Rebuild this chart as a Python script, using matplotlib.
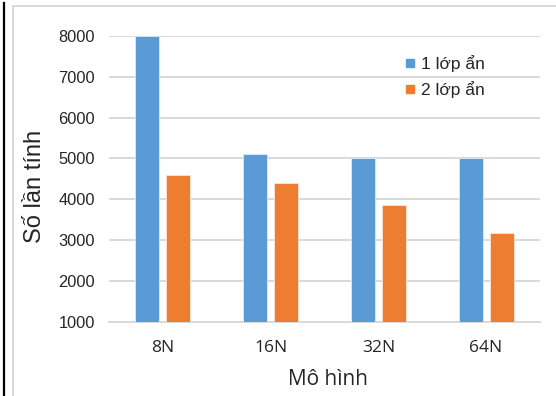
import matplotlib
matplotlib.use("Agg")
import matplotlib.pyplot as plt
from matplotlib.lines import Line2D
import numpy as np

models = ["8N", "16N", "32N", "64N"]
one_layer = [8000, 5100, 5000, 5000]
two_layer = [4600, 4400, 3850, 3170]
series_names = ["1 lớp ẩn", "2 lớp ẩn"]
y_ticks = [1000, 2000, 3000, 4000, 5000, 6000, 7000, 8000]

BLUE = "#5B9BD5"
ORANGE = "#ED7D31"
GRID = "#D9D9D9"
TEXT = "#262626"

W, H = 556, 396
fig = plt.figure(figsize=(W / 100, H / 100), dpi=100)
ax = fig.add_axes([109 / W, 1 - 321.5 / H, 431 / W, 285.5 / H])

x = np.arange(len(models))
bw = 0.223
off = 0.143
ax.bar(x - off, one_layer, bw, bottom=0, color=BLUE, edgecolor="#DDEBF7",
       linewidth=0.6, zorder=3)
ax.bar(x + off, two_layer, bw, bottom=0, color=ORANGE, edgecolor="#FBE5D6",
       linewidth=0.6, zorder=3)

ax.set_xlim(-0.5, len(models) - 0.5)
ax.set_ylim(1000, 8000)
ax.set_yticks(y_ticks)
ax.set_yticklabels([str(v) for v in y_ticks], family="Liberation Sans",
                   fontsize=11.8, color=TEXT)
ax.set_xticks(x)
ax.set_xticklabels(models, family="Open Sans", fontsize=12.5, color=TEXT)
ax.tick_params(axis="both", length=0)
ax.tick_params(axis="y", pad=10)
ax.tick_params(axis="x", pad=13)

ax.grid(axis="y", color=GRID, linewidth=1.4, zorder=0)
for side in ["top", "right", "left"]:
    ax.spines[side].set_visible(False)
ax.spines["bottom"].set_color(GRID)
ax.spines["bottom"].set_linewidth(1.4)

ax.set_xlabel("Mô hình", family="Open Sans", fontsize=15, color=TEXT)
ax.xaxis.label.set_va("baseline")
ax.xaxis.set_label_coords(0.509, -0.2224)
ax.set_ylabel("Số lần tính", family="Liberation Sans", fontsize=17,
              color=TEXT)
ax.yaxis.label.set_va("center")
ax.yaxis.set_label_coords(-0.1717, 0.473)

handles = [Line2D([], [], marker="s", linestyle="none", markersize=6.3,
                  color=c) for c in (BLUE, ORANGE)]
fig.legend(handles, series_names, loc="upper left",
           bbox_to_anchor=(386 / W, 1 - 39 / H), frameon=False,
           prop={"family": "Liberation Sans", "size": 12.5},
           handletextpad=0.1, labelspacing=0.55, handlelength=1.0,
           labelcolor=TEXT)

# outer frame lines
fig.add_artist(Line2D([4 / W, 4 / W], [0, 1 - 3 / H], color="black",
                      linewidth=1.6))
fig.add_artist(Line2D([12.5 / W, 12.5 / W], [0, 1 - 5.5 / H], color=GRID,
                      linewidth=1.4))
fig.add_artist(Line2D([12.5 / W, 1], [1 - 5.5 / H, 1 - 5.5 / H], color=GRID,
                      linewidth=1.4))

fig.savefig("out.png", dpi=100)
